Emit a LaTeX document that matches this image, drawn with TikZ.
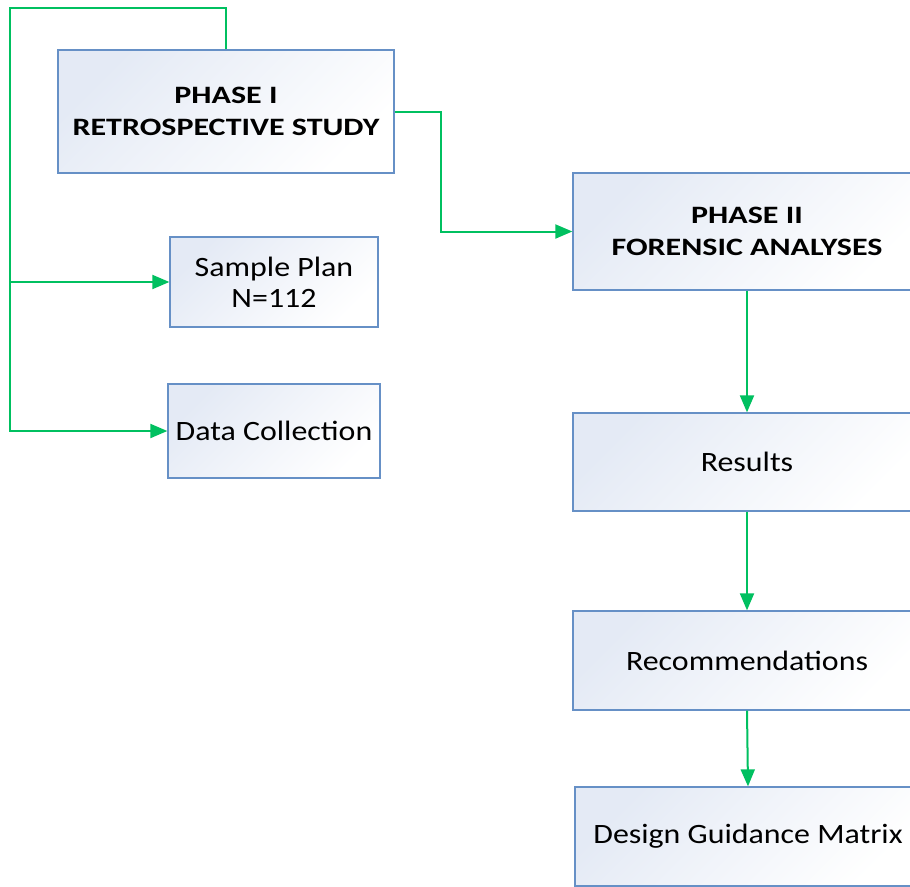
\documentclass[tikz,border=0pt]{standalone}
\usepackage{fontspec}
\setmainfont{Carlito}
\newfontfamily\regwide[FakeStretch=1.14]{Carlito}
\newfontfamily\boldwide[FakeStretch=1.28]{Carlito Bold}
\usetikzlibrary{arrows.meta}
\definecolor{boxline}{HTML}{6690C6}
\definecolor{boxfill}{HTML}{E4EAF5}
\definecolor{flow}{HTML}{00C060}
\tikzset{
 box/.style={draw=boxline, line width=1.3pt, top color=boxfill, bottom color=white, shading angle=45, align=center, inner sep=0pt, font=\regwide\fontsize{28}{31}\selectfont},
 bbox/.style={box, font=\boldwide\fontsize{25}{32}\selectfont},
 flowline/.style={draw=flow, line width=2pt},
 flowarrow/.style={flowline, -{Triangle[length=17pt,width=14pt]}}
}
\begin{document}
\begin{tikzpicture}[x=1pt,y=1pt]
\fill[white] (0,0) rectangle (910,-886);
\useasboundingbox (0,0) rectangle (910,-886);
\clip (0,0) rectangle (910,-886);
\node[bbox, minimum width=336pt, minimum height=123pt] (p1) at (226,-111.5) {PHASE I\\RETROSPECTIVE STUDY};
\node[bbox, minimum width=348pt, minimum height=117pt] (p2) at (747,-231.5) {PHASE II\\FORENSIC ANALYSES};
\node[box, minimum width=208pt, minimum height=90pt] (sp) at (274,-282) {Sample Plan\\N=112};
\node[box, minimum width=212pt, minimum height=94pt] (dc) at (274,-431) {Data Collection};
\node[box, minimum width=348pt, minimum height=98pt] (res) at (747,-462) {Results};
\node[box, minimum width=348pt, minimum height=99pt] (rec) at (747,-660.5) {Recommendations};
\node[box, minimum width=346pt, minimum height=99pt] (dg) at (748,-836.5) {Design Guidance Matrix};
\coordinate (tl) at (10,-8);
\coordinate (mid) at (441,0);
\draw[flowarrow] (p1.north) |- (tl) |- (dc.west);
\draw[flowarrow] (tl |- sp.west) -- (sp.west);
\draw[flowarrow] (p1.east) -| (mid |- p2.west) -- (p2.west);
\draw[flowarrow] (p2.south) -- (res.north);
\draw[flowarrow] (res.south) -- (rec.north);
\draw[flowarrow] (rec.south) -- (dg.north);
\end{tikzpicture}
\end{document}
